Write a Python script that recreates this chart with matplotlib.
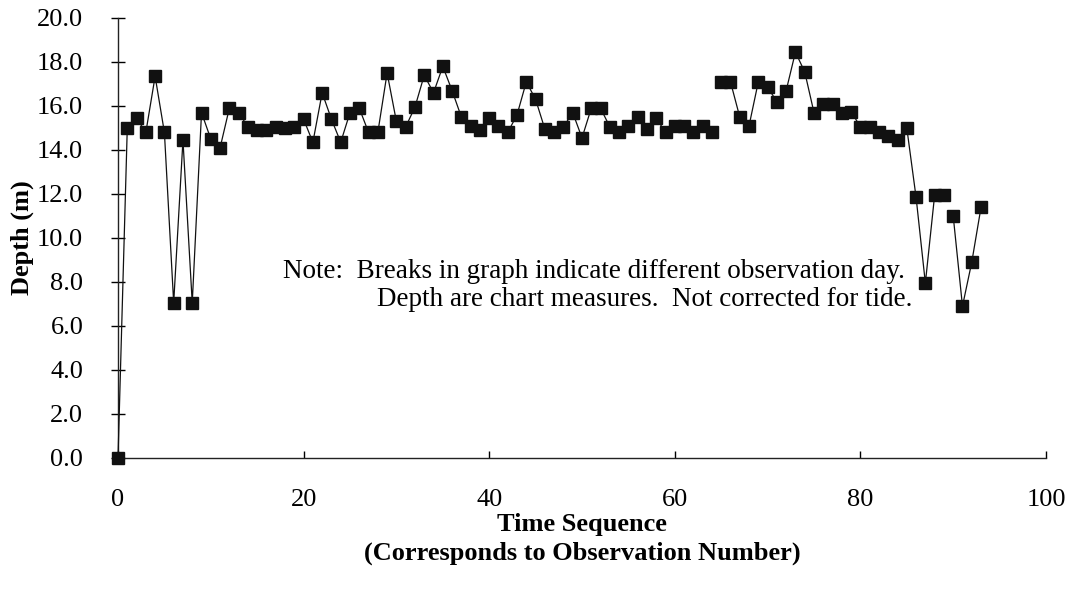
import numpy as np
import matplotlib
matplotlib.use("Agg")
from matplotlib import pyplot as plt

# observation number and depth (m)
obs = list(range(0, 94))
depth = [0.0, 15.0, 15.45, 14.8, 17.35, 14.8, 7.05, 14.45, 7.05, 15.7,
         14.5, 14.1, 15.9, 15.7, 15.05, 14.9, 14.9, 15.05, 15.0, 15.05,
         15.4, 14.35, 16.6, 15.4, 14.35, 15.7, 15.9, 14.8, 14.8, 17.5,
         15.3, 15.05, 15.95, 17.4, 16.6, 17.8, 16.7, 15.5, 15.1, 14.9,
         15.45, 15.1, 14.8, 15.6, 17.1, 16.3, 14.95, 14.8, 15.05, 15.7,
         14.55, 15.9, 15.9, 15.05, 14.8, 15.1, 15.5, 14.95, 15.45, 14.8,
         15.1, 15.1, 14.8, 15.1, 14.8, 17.1, 17.1, 15.5, 15.1, 17.1,
         16.85, 16.2, 16.7, 18.45, 17.55, 15.7, 16.1, 16.1, 15.7, 15.75,
         15.05, 15.05, 14.8, 14.65, 14.45, 15.0, 11.85, 7.95, 11.95, 11.95,
         11.0, 6.9, 8.9, 11.4]

# first observation of a new day (line is broken before these)
new_day = [65, 90]

plt.rcParams['font.family'] = "Liberation Serif"

fig = plt.figure(figsize=(10.79, 5.98), dpi=100)
ax = fig.add_axes([118 / 1079, 1 - 458 / 598, 928 / 1079, 440 / 598])

cuts = [0] + new_day + [len(obs)]
for a, b in zip(cuts[:-1], cuts[1:]):
    ax.plot(obs[a:b], depth[a:b], color='#111111', lw=0.9,
            marker='s', ms=9, mfc='#111111', mec='#111111', clip_on=False, zorder=3)

ax.set_xlim(0, 100)
ax.set_ylim(0, 20)
ax.set_xticks(np.arange(0, 101, 20))
ax.set_yticks(np.arange(0, 21, 2))
ax.set_yticklabels(['%.1f' % v for v in np.arange(0, 21, 2)])

ax.spines['top'].set_visible(False)
ax.spines['right'].set_visible(False)
for s in ['left', 'bottom']:
    ax.spines[s].set_linewidth(1.0)
    ax.spines[s].set_color('#222222')

ax.tick_params(axis='y', direction='inout', length=10, width=1, labelsize=19, pad=20)
ax.tick_params(axis='x', direction='in', length=5, width=1, labelsize=19, pad=22)

ax.set_ylabel('Depth (m)', fontsize=19, fontweight='bold', labelpad=2)
ax.set_xlabel('Time Sequence\n(Corresponds to Observation Number)', fontsize=19,
              fontweight='bold', labelpad=2, linespacing=1.3)

ax.text(283 / 1079, 1 - 271 / 598, 'Note:  Breaks in graph indicate different observation day.',
        transform=fig.transFigure, fontsize=19.5, va='center', ha='left')
ax.text(377 / 1079, 1 - 300 / 598, 'Depth are chart measures.  Not corrected for tide.',
        transform=fig.transFigure, fontsize=19.5, va='center', ha='left')

fig.savefig('out.png', dpi=100)
